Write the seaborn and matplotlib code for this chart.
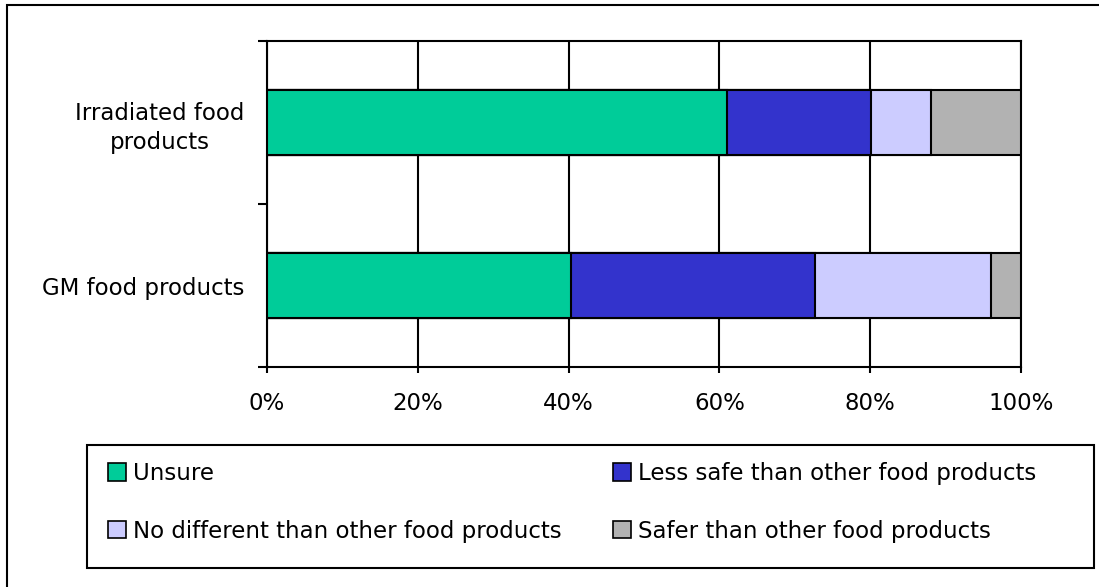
import matplotlib
matplotlib.use("Agg")
import matplotlib.pyplot as plt
import matplotlib.patches as mpatches
import numpy as np
import pandas as pd
import seaborn as sns

# Survey data: perceived safety of food products (shares in %)
categories = ["Irradiated food\nproducts", "GM food products"]
series_names = [
    "Unsure",
    "Less safe than other food products",
    "No different than other food products",
    "Safer than other food products",
]
unsure = [61.0, 40.3]
less_safe = [19.1, 32.4]
no_different = [8.0, 23.3]
safer = [11.9, 4.0]
x_ticks = [0, 20, 40, 60, 80, 100]
tick_labels = ["0%", "20%", "40%", "60%", "80%", "100%"]

colors = ["#00CC99", "#3333CC", "#CCCCFF", "#B2B2B2"]

sns.set_theme(style="white")
plt.rcParams["font.family"] = ["DejaVu Sans"]
plt.rcParams["text.color"] = "black"

W, H = 1099, 587
FS = 16.5
fig = plt.figure(figsize=(W / 100, H / 100), dpi=100)
ax = fig.add_axes([267 / W, 1 - 367 / H, (1021 - 267) / W, (367 - 41) / H])

values = [unsure, less_safe, no_different, safer]
cum = np.cumsum(np.array(values), axis=0)

# stacked bars: paint cumulative totals from the widest down
for i in range(len(values) - 1, -1, -1):
    df = pd.DataFrame({"category": categories, "value": cum[i]})
    sns.barplot(data=df, x="value", y="category", orient="h",
                color=colors[i], saturation=1, width=0.4,
                edgecolor="black", linewidth=1.5, ax=ax, zorder=3)

ax.set_xlim(0, 100)
ax.set_ylim(1.5, -0.5)
ax.set_xlabel("")
ax.set_ylabel("")

# vertical gridlines
ax.set_axisbelow(True)
ax.xaxis.grid(True, color="black", linewidth=1.5)
ax.yaxis.grid(False)

for sp in ax.spines.values():
    sp.set_visible(True)
    sp.set_color("black")
    sp.set_linewidth(1.5)

ax.set_xticks(x_ticks)
ax.set_xticklabels(tick_labels)
ax.tick_params(axis="x", which="major", bottom=True, direction="out",
               length=4, width=1.5, color="black", pad=14,
               labelsize=FS, labelcolor="black")

ax.set_yticks([0, 1])
ax.set_yticklabels(categories)
ax.set_yticks([-0.5, 0.5, 1.5], minor=True)
ax.tick_params(axis="y", which="major", left=False, length=0, pad=16,
               labelsize=FS, labelcolor="black")
ax.tick_params(axis="y", which="minor", left=True, direction="out",
               length=6.5, width=1.5, color="black")
for lbl in ax.get_yticklabels():
    lbl.set_multialignment("center")
    lbl.set_linespacing(1.35)

# legend, two columns, framed separately
handles = [mpatches.Patch(facecolor=c, edgecolor="black", linewidth=1.2, label=n)
           for c, n in zip(colors, series_names)]
order = [0, 2, 1, 3]
leg = fig.legend(handles=[handles[k] for k in order], ncol=2, loc="upper left",
                 bbox_to_anchor=(108 / W, 1 - 462 / H), bbox_transform=fig.transFigure,
                 frameon=False, borderpad=0, borderaxespad=0, fontsize=FS,
                 handlelength=0.78, handleheight=0.78, handletextpad=0.3,
                 labelspacing=1.52, columnspacing=2.25, labelcolor="black")

fig.patches.append(mpatches.Rectangle(
    (87 / W, 1 - 568 / H), (1094 - 87) / W, (568 - 445) / H,
    transform=fig.transFigure, fill=False, edgecolor="black", linewidth=1.5))

# chart area border
fig.patches.append(mpatches.Rectangle(
    (7 / W, -0.2), 1.5, 1.2 - 5 / H,
    transform=fig.transFigure, fill=False, edgecolor="black", linewidth=1.5))

fig.savefig("out.png", dpi=100)
